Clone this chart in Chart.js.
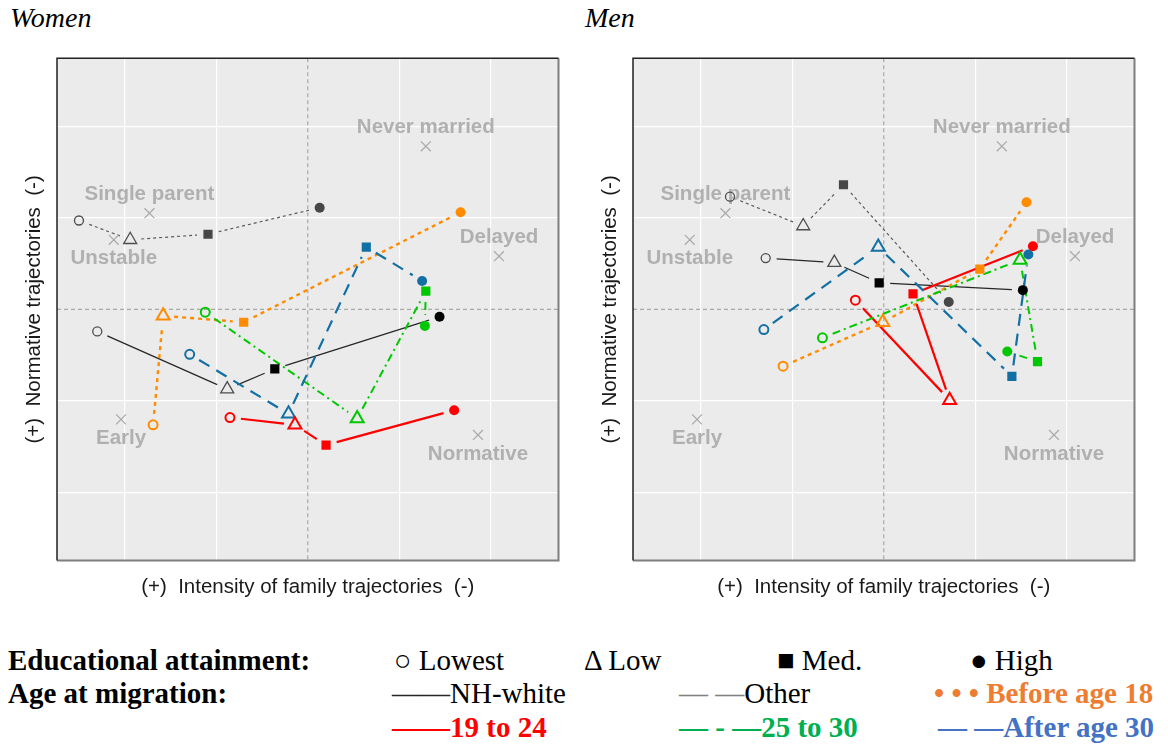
<!DOCTYPE html>
<html>
<head>
<meta charset="utf-8">
<title>Family trajectories by education and age at migration</title>
<script src="https://cdn.jsdelivr.net/npm/chart.js@4.4.0/dist/chart.umd.min.js"></script>
<style>
  body { margin: 0; background: #fff; }
  #page { position: relative; width: 1168px; height: 744px; overflow: hidden; }
  canvas.panel { position: absolute; top: 0; }
  .title { position: absolute; top: 4px; font: italic 28px "Liberation Serif", "Times New Roman", serif; line-height: 1; }
  .lg { position: absolute; font-family: "Liberation Serif", "Times New Roman", serif; font-size: 29px; line-height: 1; white-space: pre; color: #000; }
  .b { font-weight: bold; }
</style>
</head>
<body>
<div id="page">
  <div class="title" style="left:10px">Women</div>
  <div class="title" style="left:585px">Men</div>
  <canvas id="women" class="panel" style="left:0" width="580" height="610"></canvas>
  <canvas id="men" class="panel" style="left:576px" width="580" height="610"></canvas>
  <div id="legend"></div>
</div>
<script>
// educational attainment levels, in the order each line visits them
const levels = ['Lowest', 'Low', 'Med.', 'High'];
const levelGlyphs = ['\u25CB', '\u0394', '\u25A0', '\u25CF'];

// age at migration groups (plus the two reference groups)
const groups = ['NH-white', 'Other', 'Before age 18', '19 to 24', '25 to 30', 'After age 30'];

// family trajectory types (gray crosses)
const trajNames = ['Never married', 'Single parent', 'Unstable', 'Delayed', 'Early', 'Normative'];
const trajX = [1.29, -1.73, -2.12, 2.09, -2.04, 1.86];
const trajY = [1.78, 1.05, 0.76, 0.58, -1.20, -1.37];

// women: [intensity, normativity] for Lowest, Low, Med., High
const womenNhWhite = [[-2.30, -0.24], [-0.88, -0.87], [-0.36, -0.65], [1.44, -0.08]];
const womenOther = [[-2.50, 0.97], [-1.94, 0.76], [-1.09, 0.82], [0.13, 1.11]];
const womenBefore18 = [[-1.69, -1.26], [-1.58, -0.07], [-0.70, -0.14], [1.67, 1.06]];
const women19to24 = [[-0.85, -1.18], [-0.14, -1.26], [0.20, -1.48], [1.60, -1.10]];
const women25to30 = [[-1.12, -0.03], [0.54, -1.19], [1.29, 0.20], [1.28, -0.18]];
const womenAfter30 = [[-1.29, -0.49], [-0.21, -1.14], [0.64, 0.68], [1.25, 0.31]];

// men
const menNhWhite = [[-1.29, 0.56], [-0.54, 0.51], [-0.05, 0.29], [1.52, 0.21]];
const menOther = [[-1.68, 1.23], [-0.88, 0.91], [-0.44, 1.36], [0.71, 0.08]];
const menBefore18 = [[-1.10, -0.62], [-0.01, -0.14], [1.05, 0.44], [1.56, 1.17]];
const men19to24 = [[-0.31, 0.10], [0.72, -0.99], [0.32, 0.17], [1.63, 0.69]];
const men25to30 = [[-0.67, -0.31], [1.49, 0.54], [1.68, -0.57], [1.35, -0.46]];
const menAfter30 = [[-1.31, -0.22], [-0.06, 0.68], [1.40, -0.73], [1.58, 0.60]];

// axis extent and grid steps
const axisMin = -2.74, axisMax = 2.74;
const gridSteps = [-2, -1, 0, 1, 2];
const xTitle = '(+)  Intensity of family trajectories  (-)';
const yTitle = '(+)  Normative trajectories  (-)';

// look of each group's line and markers
const groupStyle = [
  { color: '#262626', width: 1.2, dash: [], open: '#4d4d4d', fill: '#000000', ow: 1.3 },
  { color: '#5a5a5a', width: 1.2, dash: [3, 3], open: '#4d4d4d', fill: '#474747', ow: 1.3 },
  { color: '#ff8c00', width: 2.4, dash: [4, 4], open: '#ff8c00', fill: '#ff8c00', ow: 2 },
  { color: '#ff0000', width: 2.2, dash: [], open: '#ff0000', fill: '#ff0000', ow: 2 },
  { color: '#00c800', width: 2, dash: [8, 4, 2, 4], open: '#00c800', fill: '#00c800', ow: 2 },
  { color: '#1270a5', width: 2.2, dash: [12, 8], open: '#1270a5', fill: '#1270a5', ow: 2 }
];
const trajLabelAbove = [true, true, false, true, false, false];

Chart.defaults.font.family = '"Liberation Sans", Arial, sans-serif';

// background, zero lines, trajectory labels, gapped connectors and frame
const panelDecor = {
  id: 'panelDecor',
  beforeDraw(chart) {
    const { ctx, chartArea: a } = chart;
    ctx.save();
    ctx.fillStyle = '#ebebeb';
    ctx.fillRect(a.left, a.top, a.right - a.left, a.bottom - a.top);
    ctx.restore();
  },
  beforeDatasetsDraw(chart) {
    const { ctx, chartArea: a, scales } = chart;
    ctx.save();
    ctx.beginPath();
    ctx.rect(a.left, a.top, a.right - a.left, a.bottom - a.top);
    ctx.clip();

    // dashed lines through the origin
    const x0 = scales.x.getPixelForValue(0), y0 = scales.y.getPixelForValue(0);
    ctx.strokeStyle = '#a9a9a9';
    ctx.lineWidth = 1.2;
    ctx.setLineDash([4, 3]);
    ctx.beginPath();
    ctx.moveTo(x0, a.top); ctx.lineTo(x0, a.bottom);
    ctx.moveTo(a.left, y0); ctx.lineTo(a.right, y0);
    ctx.stroke();

    // names of the trajectory types next to their crosses
    const crosses = chart.getDatasetMeta(0).data;
    ctx.setLineDash([]);
    ctx.fillStyle = '#b0b0b0';
    ctx.font = 'bold 20.5px "Liberation Sans", Arial, sans-serif';
    ctx.textAlign = 'center';
    ctx.textBaseline = 'middle';
    crosses.forEach((p, i) => {
      ctx.fillText(trajNames[i], p.x, p.y + (trajLabelAbove[i] ? -19 : 19));
    });

    // connectors that stop short of each marker
    chart.data.datasets.forEach((ds, i) => {
      if (!ds.link) return;
      const pts = chart.getDatasetMeta(i).data;
      ctx.strokeStyle = ds.borderColor;
      ctx.lineWidth = ds.borderWidth;
      ctx.setLineDash(ds.link.dash);
      for (let k = 1; k < pts.length; k++) {
        const a0 = pts[k - 1], b0 = pts[k];
        const dx = b0.x - a0.x, dy = b0.y - a0.y;
        const len = Math.hypot(dx, dy);
        const g = ds.link.gap;
        if (len <= 2 * g) continue;
        const ux = dx / len, uy = dy / len;
        ctx.beginPath();
        ctx.moveTo(a0.x + ux * g, a0.y + uy * g);
        ctx.lineTo(b0.x - ux * g, b0.y - uy * g);
        ctx.stroke();
      }
    });
    ctx.restore();
  },
  afterDraw(chart) {
    const { ctx, chartArea: a } = chart;
    ctx.save();
    ctx.strokeStyle = '#7f7f7f';
    ctx.lineWidth = 2;
    ctx.beginPath();
    ctx.moveTo(a.right, a.top); ctx.lineTo(a.right, a.bottom); ctx.lineTo(a.left, a.bottom);
    ctx.stroke();
    ctx.strokeStyle = '#222';
    ctx.lineWidth = 1.5;
    ctx.beginPath();
    ctx.moveTo(a.left, a.bottom); ctx.lineTo(a.left, a.top); ctx.lineTo(a.right, a.top);
    ctx.stroke();
    ctx.restore();
  }
};

function axisOptions(title, padding) {
  return {
    type: 'linear',
    min: axisMin,
    max: axisMax,
    afterBuildTicks: axis => { axis.ticks = gridSteps.map(v => ({ value: v })); },
    ticks: { display: false },
    border: { display: false },
    grid: {
      drawTicks: false,
      lineWidth: 1.2,
      color: c => (c.tick && c.tick.value !== 0 ? '#ffffff' : 'rgba(0,0,0,0)')
    },
    title: { display: true, text: title, color: '#1a1a1a', font: { size: 20.5 }, padding: padding }
  };
}

function makePanel(canvasId, series) {
  const datasets = [{
    label: 'Trajectory types',
    data: trajX.map((x, i) => ({ x: x, y: trajY[i] })),
    pointStyle: 'crossRot',
    pointRadius: 7,
    pointBorderColor: '#a8a8a8',
    pointBorderWidth: 1.2
  }];
  series.forEach((pts, g) => {
    const st = groupStyle[g];
    datasets.push({
      label: groups[g],
      data: pts.map(p => ({ x: p[0], y: p[1] })),
      borderColor: st.color,
      borderWidth: st.width,
      link: { dash: st.dash, gap: 11 },
      pointStyle: ['circle', 'triangle', 'rect', 'circle'],
      pointRadius: [4.5, 7.5, 6.5, 5],
      pointBorderWidth: [st.ow, st.ow, 0, 0],
      pointBorderColor: st.open,
      pointBackgroundColor: ['rgba(0,0,0,0)', 'rgba(0,0,0,0)', st.fill, st.fill]
    });
  });

  return new Chart(document.getElementById(canvasId), {
    type: 'scatter',
    data: { datasets: datasets },
    options: {
      responsive: false,
      animation: false,
      events: [],
      layout: { padding: { left: 17.7, top: 58.3, right: 21.5, bottom: 6.7 } },
      plugins: { legend: { display: false }, tooltip: { enabled: false } },
      scales: {
        x: axisOptions(xTitle, { top: 14.2, bottom: 4 }),
        y: axisOptions(yTitle, { top: 4, bottom: 10.7 })
      }
    },
    plugins: [panelDecor]
  });
}

makePanel('women', [womenNhWhite, womenOther, womenBefore18, women19to24, women25to30, womenAfter30]);
makePanel('men', [menNhWhite, menOther, menBefore18, men19to24, men25to30, menAfter30]);

// text legend underneath the two panels
const rowTop = [646, 679, 713];
const levelLeft = [394, 584, 777, 970];
const groupLeft = [392, 679, 934, 392, 679, 938];
const groupRow = [1, 1, 1, 2, 2, 2];
const groupSwatch = ['\u2014\u2014', '\u2014 \u2014', '\u2022 \u2022 \u2022 ', '\u2014\u2014', '\u2014 - \u2014', '\u2014 \u2014'];
const swatchColor = ['#262626', '#808080', '#ed7d31', '#ff0000', '#00b050', '#4472c4'];
const groupTextColor = ['#000', '#000', '#ed7d31', '#ff0000', '#00b050', '#4472c4'];
const groupBold = [false, false, true, true, true, true];

const legend = document.getElementById('legend');
function addText(html, left, top, bold, color) {
  const s = document.createElement('span');
  s.className = 'lg' + (bold ? ' b' : '');
  s.style.left = left + 'px';
  s.style.top = top + 'px';
  if (color) s.style.color = color;
  s.innerHTML = html;
  legend.appendChild(s);
}
addText('Educational attainment:', 8, rowTop[0], true);
addText('Age at migration:', 8, rowTop[1], true);
levels.forEach((name, i) => addText(levelGlyphs[i] + ' ' + name, levelLeft[i], rowTop[0], false));
groups.forEach((name, i) => {
  addText('<span style="color:' + swatchColor[i] + '">' + groupSwatch[i] + '</span>' + name,
    groupLeft[i], rowTop[groupRow[i]], groupBold[i], groupTextColor[i]);
});
</script>
</body>
</html>
